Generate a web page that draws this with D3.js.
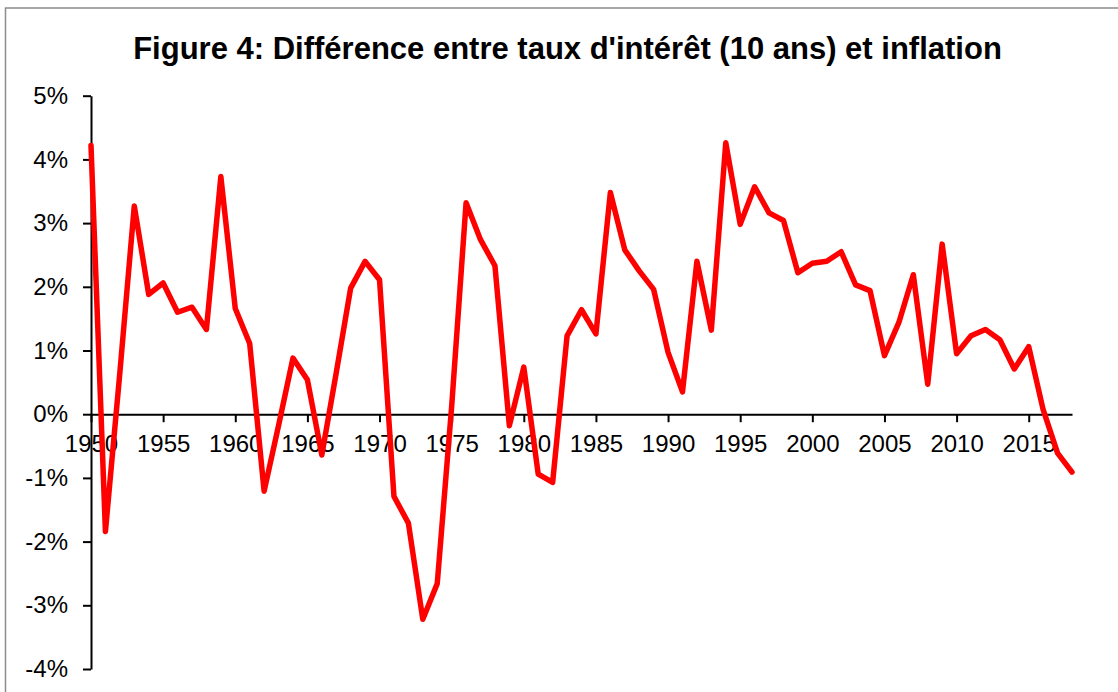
<!DOCTYPE html>
<html lang="fr">
    <head>
        <meta charset="utf-8">
        <title>Figure 4</title>
        <script src="https://cdn.jsdelivr.net/npm/d3@7"></script>
        <style type="text/css">
            body { margin: 0; background: #fff; }
            .axis text {
                font-family: "Liberation Sans", Arial, sans-serif;
                font-size: 24px;
                fill: black;
            }
            .axis path, .axis line {
                stroke: black;
                stroke-width: 2px;
            }
        </style>
    </head>
    <body>
        <script type="text/javascript">

            var years = [1950,1951,1952,1953,1954,1955,1956,1957,1958,1959,
                         1960,1961,1962,1963,1964,1965,1966,1967,1968,1969,
                         1970,1971,1972,1973,1974,1975,1976,1977,1978,1979,
                         1980,1981,1982,1983,1984,1985,1986,1987,1988,1989,
                         1990,1991,1992,1993,1994,1995,1996,1997,1998,1999,
                         2000,2001,2002,2003,2004,2005,2006,2007,2008,2009,
                         2010,2011,2012,2013,2014,2015,2016,2017,2018];

            // difference taux 10 ans - inflation, en %
            var ecart = [4.22,-1.84,0.65,3.27,1.88,2.06,1.60,1.68,1.33,3.73,
                         1.66,1.11,-1.21,-0.18,0.88,0.54,-0.64,0.65,1.98,2.40,
                         2.11,-1.29,-1.71,-3.22,-2.66,0.12,3.32,2.74,2.33,-0.18,
                         0.74,-0.94,-1.07,1.23,1.64,1.26,3.48,2.58,2.25,1.96,
                         0.97,0.35,2.40,1.32,4.26,2.98,3.57,3.16,3.04,2.22,
                         2.37,2.40,2.55,2.03,1.94,0.92,1.44,2.19,0.47,2.67,
                         0.95,1.23,1.33,1.17,0.71,1.06,0.07,-0.61,-0.91];

            var xTicks = [1950,1955,1960,1965,1970,1975,1980,1985,1990,1995,2000,2005,2010,2015];
            var yTicks = [-4,-3,-2,-1,0,1,2,3,4,5];

            var titre = "Figure 4: Différence entre taux d'intérêt (10 ans) et inflation";

            var w = 1118;
            var h = 692;

            var dataset = years.map(function(y, i) { return {year: y, value: ecart[i]}; });

            var svg = d3.select("body")
                .append("svg")
                .attr("width", w)
                .attr("height", h);

            // cadre gris
            svg.append("rect")
                .attr("x", 5.5)
                .attr("y", 8)
                .attr("width", w)
                .attr("height", h)
                .attr("fill", "none")
                .attr("stroke", "#8c8c8c")
                .attr("stroke-width", 1.5);

            var xScale = d3.scaleLinear()
                .domain([1950, 2018])
                .range([91, 1072]);
            var yScale = d3.scaleLinear()
                .domain([-4, 5])
                .range([669, 95.7]);

            var xAxis = d3.axisBottom(xScale)
                .tickValues(xTicks)
                .tickFormat(d3.format("d"))
                .tickSize(8)
                .tickSizeOuter(0)
                .tickPadding(13);
            var yAxis = d3.axisLeft(yScale)
                .tickValues(yTicks)
                .tickFormat(function(d) { return d + "%"; })
                .tickSize(8)
                .tickSizeOuter(0)
                .tickPadding(15);

            svg.append("g")
                .attr("class", "axis")
                .attr("transform", "translate(0," + yScale(0) + ")")
                .call(xAxis);
            svg.append("g")
                .attr("class", "axis")
                .attr("transform", "translate(" + xScale(1950) + ",0)")
                .call(yAxis);

            var line = d3.line()
                .x(function(d) { return xScale(d.year); })
                .y(function(d) { return yScale(d.value); });

            svg.append("path")
                .datum(dataset)
                .attr("d", line)
                .attr("fill", "none")
                .attr("stroke", "#ff0000")
                .attr("stroke-width", 5.5)
                .attr("stroke-linejoin", "round")
                .attr("stroke-linecap", "round");

            svg.append("text")
                .attr("x", 567.5)
                .attr("y", 59)
                .attr("text-anchor", "middle")
                .style("font-family", "'Liberation Sans', Arial, sans-serif")
                .style("font-weight", "bold")
                .style("font-size", "31px")
                .text(titre);

        </script>
    </body>
</html>
